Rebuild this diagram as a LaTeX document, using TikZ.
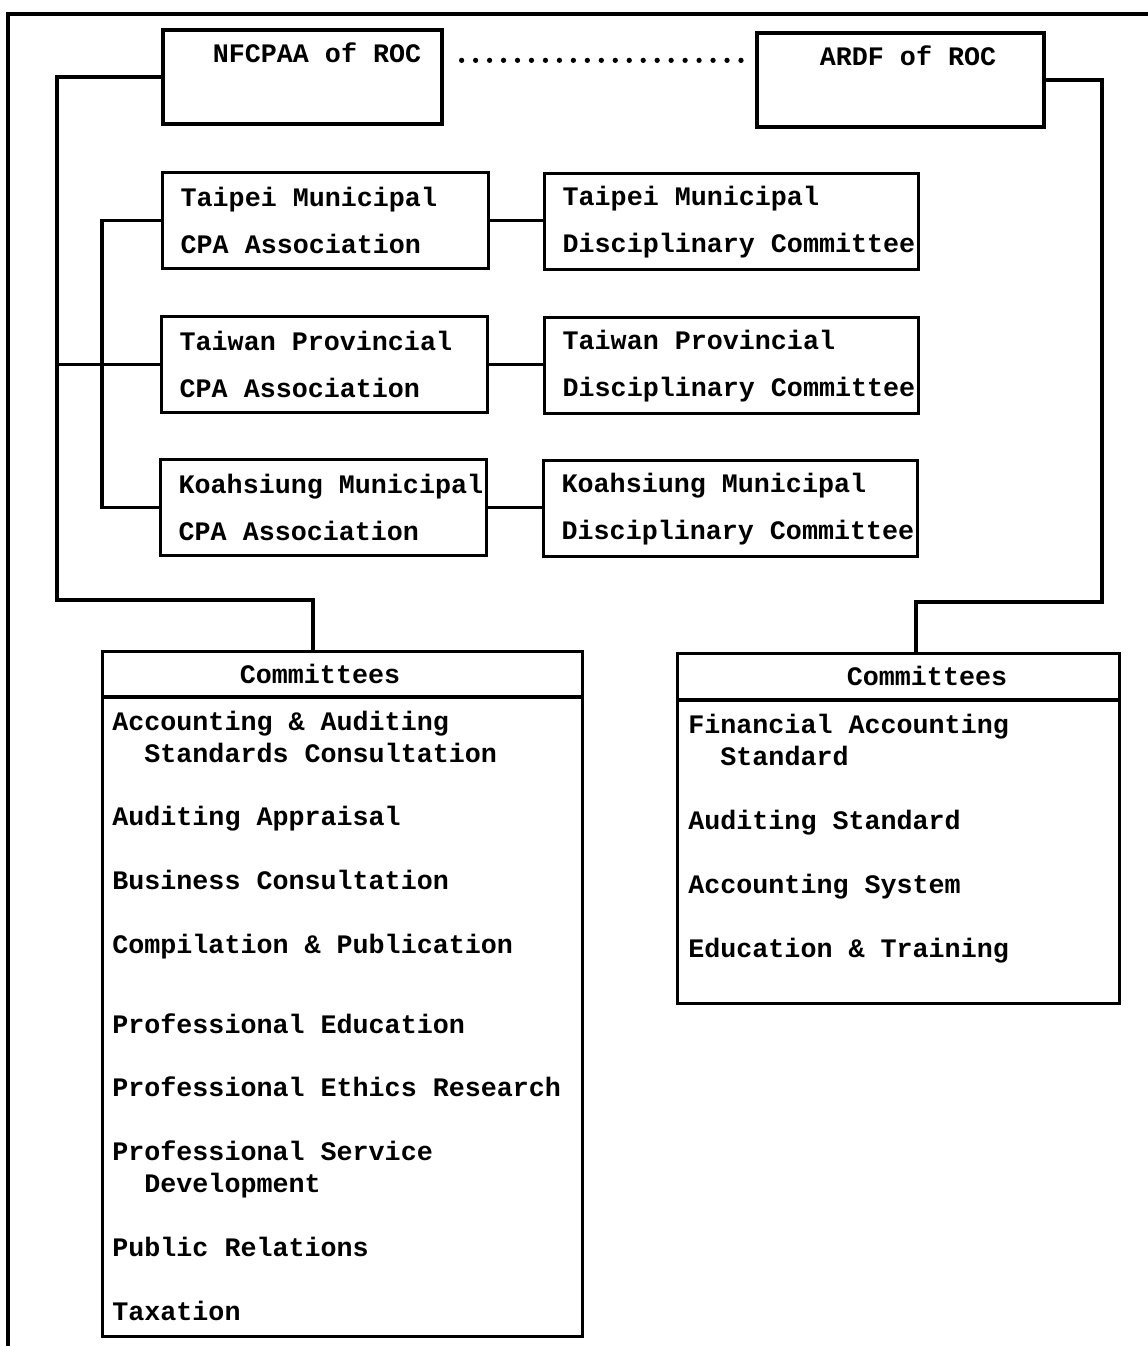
\documentclass[tikz,border=0pt]{standalone}
\usepackage{fontspec}
\setmonofont{Liberation Mono}
\usetikzlibrary{positioning}

\newcommand{\orgfont}{\ttfamily\bfseries\fontsize{15.2pt}{26.7pt}\selectfont}
\newcommand{\listfont}{\ttfamily\bfseries\fontsize{15.2pt}{18.1pt}\selectfont}

\begin{document}
\begin{tikzpicture}[x=0.02cm,y=-0.02cm,
  conn/.style={line width=1.9pt},
  orgbox/.style={draw,line width=1.9pt,anchor=north west,align=flush left,
    inner xsep=0.36cm,inner ysep=0pt,minimum height=1.92cm,font=\orgfont},
  cpabox/.style={orgbox,text width=5.8cm},
  discbox/.style={orgbox,text width=6.76cm},
  topbox/.style={draw,line width=1.9pt,inner sep=0pt,minimum height=1.88cm},
  combox/.style={draw,line width=1.9pt,anchor=north west,inner sep=0pt},
  lbl/.style={font=\orgfont,inner sep=0pt},
  comlist/.style={anchor=base west,align=left,inner sep=0pt,font=\listfont},
  dotline/.style={line width=3pt,line cap=round,dash pattern=on 0pt off 7.95pt}]
\useasboundingbox (0,0) rectangle (1148,1346);
\draw[conn] (1148,14) -- (8,14) -- (8,1346); % Frame.outer

\node[topbox,minimum width=5.58cm] (nfcpaa) at (302.5,77) {}; % Top.nfcpaa
\node[lbl] (nfcpaalbl) at (317,53) {NFCPAA of ROC}; % Top.nfcpaa
\node[topbox,minimum width=5.74cm] (ardf) at (900.5,80) {}; % Top.ardf
\node[lbl] (ardflbl) at (908,56) {ARDF of ROC}; % Top.ardf
\draw[dotline] ([shift={(18,32)}]nfcpaa.north east) -- ([shift={(-4,29)}]ardf.north west); % Link.dots

\node[cpabox] (taipeicpa) at (161,171) {Taipei Municipal\\CPA Association}; % Assoc.taipei
\node[discbox] (taipeidisc) at (543,172) {Taipei Municipal\\Disciplinary~Committee}; % Disc.taipei
\node[cpabox] (taiwancpa) at (160,315) {Taiwan Provincial\\CPA Association}; % Assoc.taiwan
\node[discbox] (taiwandisc) at (543,316) {Taiwan Provincial\\Disciplinary~Committee}; % Disc.taiwan
\node[cpabox] (koahcpa) at (159,458) {Koahsiung~Municipal\\CPA Association}; % Assoc.koah
\node[discbox] (koahdisc) at (542,459) {Koahsiung Municipal\\Disciplinary~Committee}; % Disc.koah
\draw[conn] (taipeicpa.east) -- (taipeicpa.east -| taipeidisc.west); % Link.taipei
\draw[conn] (taiwancpa.east) -- (taiwancpa.east -| taiwandisc.west); % Link.taiwan
\draw[conn] (koahcpa.east) -- (koahcpa.east -| koahdisc.west); % Link.koah

\coordinate (lbus) at (57,600);
\coordinate (ltap) at (313,650);
\coordinate (cpabus) at (102,362);
\coordinate (rbus) at (1102,602);
\coordinate (rtap) at (916,652);
\draw[conn] (nfcpaa.west) -| (lbus) -| (ltap); % Bus.left
\draw[conn] (taiwancpa.west) -- (taiwancpa.west -| lbus); % Bus.left
\draw[conn] (taipeicpa.west) -| (cpabus) |- (koahcpa.west); % Bus.cpa
\draw[conn] (ardf.east) -| (rbus) -| (rtap); % Bus.right

\node[combox,minimum width=9.6cm,minimum height=13.7cm] (lcom) at (101,650) {}; % Com.left
\draw[conn] ([shift={(0,47)}]lcom.north west) -- ([shift={(0,47)}]lcom.north east); % Com.left
\node[lbl] (lcomhead) at (320,674) {Committees}; % Com.left
\node[comlist] (lcomlist) at (112,1320) {Accounting \& Auditing\\
  \hphantom{AA}Standards Consultation\\[18.2pt]
  Auditing Appraisal\\[18.2pt]
  Business Consultation\\[18.2pt]
  Compilation \& Publication\\[27.3pt]
  Professional Education\\[18.2pt]
  Professional Ethics Research\\[18.2pt]
  Professional Service\\
  \hphantom{AA}Development\\[18.2pt]
  Public Relations\\[18.2pt]
  Taxation}; % Com.left

\node[combox,minimum width=8.84cm,minimum height=7cm] (rcom) at (676,652) {}; % Com.right
\draw[conn] ([shift={(0,48)}]rcom.north west) -- ([shift={(0,48)}]rcom.north east); % Com.right
\node[lbl] (rcomhead) at (927,676) {Committees}; % Com.right
\node[comlist] (rcomlist) at (688,957) {Financial Accounting\\
  \hphantom{AA}Standard\\[18.2pt]
  Auditing Standard\\[18.2pt]
  Accounting System\\[18.2pt]
  Education \& Training}; % Com.right
\end{tikzpicture}
\end{document}
